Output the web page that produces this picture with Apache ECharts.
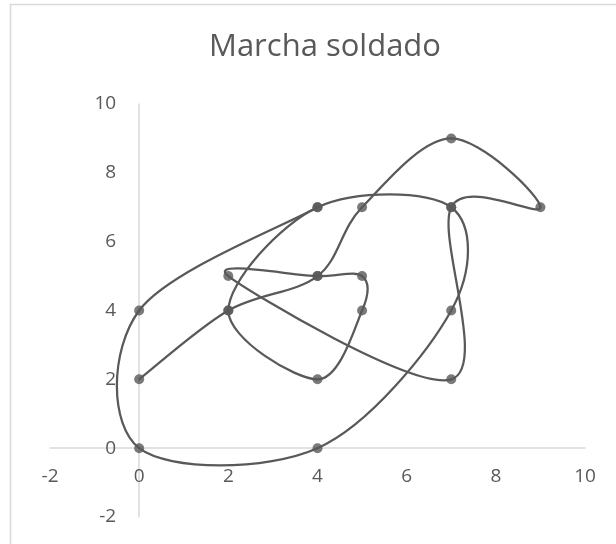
<!DOCTYPE html>
<html>
<head>
<meta charset="utf-8">
<script src="https://cdn.jsdelivr.net/npm/echarts@6/dist/echarts.min.js"></script>
<style>
  html, body { margin: 0; padding: 0; background: #fff; }
  #chart { width: 616px; height: 544px; }
</style>
</head>
<body>
<div id="chart"></div>
<script>
// Path of the march, visited in order
const xs = [0, 2, 4, 5, 7, 9, 7, 7, 2, 4, 5, 5, 4, 2, 4, 7, 7, 4, 0, 0, 4];
const ys = [2, 4, 5, 7, 9, 7, 7, 2, 5, 5, 5, 4, 2, 4, 7, 7, 4, 0, 0, 4, 7];
const title = 'Marcha soldado';
const axisMin = -2, axisMax = 10, axisStep = 2;

const points = xs.map((x, i) => [x, ys[i]]);
const ink = '#595959';
const axisGray = '#d9d9d9';
const font = 'Open Sans';

const grid = { left: 50, top: 104, width: 535, height: 413 };
// place each axis where the other axis is zero
const zeroFrac = (0 - axisMin) / (axisMax - axisMin);

// Smoothed path: one cubic segment per step, tangents from neighbouring points
function renderSegment(params, api) {
  const i = params.dataIndex;
  if (i === 0) return null;
  const n = points.length;
  const p = k => api.coord(points[Math.max(0, Math.min(n - 1, k))]);
  const p0 = p(i - 2), p1 = p(i - 1), p2 = p(i), p3 = p(i + 1);
  return {
    type: 'bezierCurve',
    shape: {
      x1: p1[0], y1: p1[1],
      cpx1: p1[0] + (p2[0] - p0[0]) / 6, cpy1: p1[1] + (p2[1] - p0[1]) / 6,
      cpx2: p2[0] - (p3[0] - p1[0]) / 6, cpy2: p2[1] - (p3[1] - p1[1]) / 6,
      x2: p2[0], y2: p2[1]
    },
    style: { stroke: ink, lineWidth: 2.25, fill: null, lineCap: 'round' }
  };
}

const chart = echarts.init(document.getElementById('chart'), null, { renderer: 'canvas' });
chart.setOption({
  animation: false,
  backgroundColor: '#fff',
  title: {
    text: title,
    left: 320, textAlign: 'center',
    top: 27,
    textStyle: { color: ink, fontSize: 31, fontWeight: 'normal', fontFamily: font }
  },
  graphic: [{
    type: 'rect',
    shape: { x: 10.5, y: 4.5, width: 640, height: 600 },
    style: { fill: 'none', stroke: axisGray, lineWidth: 1.5 },
    silent: true
  }],
  grid: grid,
  xAxis: {
    type: 'value',
    min: axisMin, max: axisMax, interval: axisStep,
    offset: -zeroFrac * grid.height,
    axisLine: { onZero: false, lineStyle: { color: axisGray, width: 1.5 } },
    axisTick: { show: false },
    splitLine: { show: false },
    axisLabel: { color: ink, fontSize: 19, fontFamily: font, margin: 19 }
  },
  yAxis: {
    type: 'value',
    min: axisMin, max: axisMax, interval: axisStep,
    offset: -zeroFrac * grid.width,
    axisLine: { show: true, onZero: false, lineStyle: { color: axisGray, width: 1.5 } },
    axisTick: { show: false },
    splitLine: { show: false },
    axisLabel: { color: ink, fontSize: 19, fontFamily: font, margin: 23 }
  },
  series: [{
    type: 'custom',
    data: points,
    encode: { x: 0, y: 1 },
    renderItem: renderSegment,
    clip: false,
    silent: true
  }, {
    type: 'scatter',
    data: points,
    symbol: 'circle',
    symbolSize: 10,
    itemStyle: { color: ink },
    z: 3
  }]
});
</script>
</body>
</html>
